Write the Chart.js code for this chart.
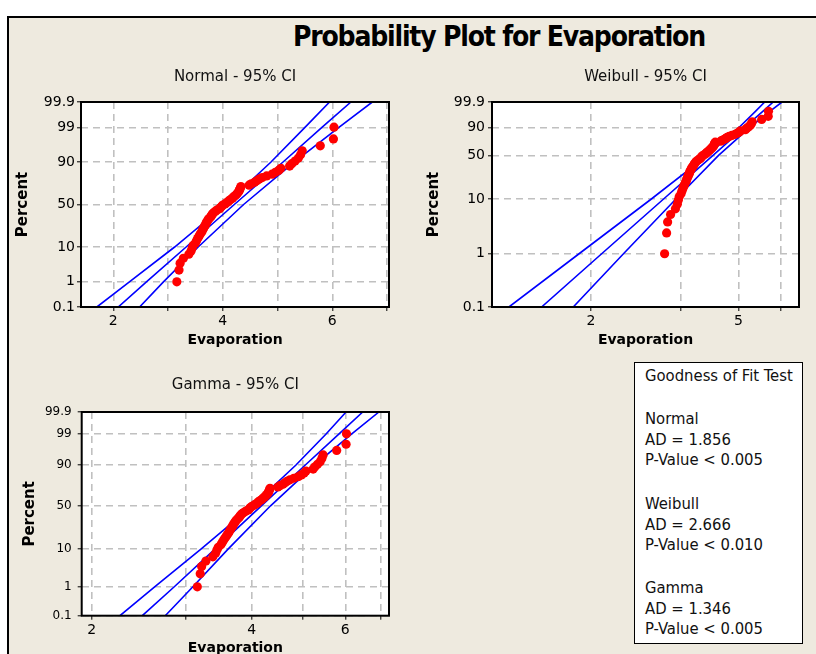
<!DOCTYPE html>
<html>
<head>
<meta charset="utf-8">
<script src="https://cdn.jsdelivr.net/npm/chart.js@4.4.1/dist/chart.umd.min.js"></script>
<style>
  html, body { margin: 0; padding: 0; }
  body { width: 816px; height: 654px; overflow: hidden; position: relative; background: #fff; font-family: "DejaVu Sans", sans-serif; }
  #frame { position: absolute; left: 7px; top: 16px; width: 900px; height: 700px; border-left: 2px solid #000; border-top: 2px solid #000; background: #eeeadf; }
  #title { position: absolute; left: 199px; top: 21px; width: 600px; text-align: center; font: bold 28px/32px "DejaVu Sans Condensed", "DejaVu Sans", sans-serif; letter-spacing: -1.2px; color: #000; }
  canvas { position: absolute; }
  #cNormal { left: 0; top: 60px; }
  #cWeibull { left: 410px; top: 60px; }
  #cGamma { left: 0; top: 370px; }
  #gof { position: absolute; left: 634px; top: 362px; width: 167px; height: 280px; border: 1px solid #000; background: #fff; }
  #gof div { position: absolute; left: 10px; white-space: nowrap; font: 16.5px/20px "DejaVu Sans Condensed", "DejaVu Sans", sans-serif; color: #111; }
</style>
</head>
<body>
<div id="frame"></div>
<div id="title">Probability Plot for Evaporation</div>
<canvas id="cNormal" width="470" height="300"></canvas>
<canvas id="cWeibull" width="470" height="300"></canvas>
<canvas id="cGamma" width="470" height="300"></canvas>
<div id="gof"></div>
<script>
// sorted evaporation values
const evaporation = [3.16, 3.20, 3.22, 3.28, 3.38, 3.42, 3.44, 3.46, 3.50, 3.52,
    3.54, 3.56, 3.58, 3.60, 3.62, 3.63, 3.65, 3.66, 3.68, 3.69,
    3.70, 3.72, 3.73, 3.75, 3.77, 3.79, 3.80, 3.82, 3.84, 3.87,
    3.90, 3.94, 3.96, 3.98, 4.00, 4.04, 4.07, 4.10, 4.12, 4.15,
    4.18, 4.20, 4.23, 4.25, 4.27, 4.29, 4.30, 4.31, 4.32, 4.33,
    4.48, 4.52, 4.58, 4.62, 4.66, 4.72, 4.80, 4.90, 4.96, 5.02,
    5.06, 5.22, 5.26, 5.32, 5.38, 5.42, 5.45, 5.78, 6.02, 6.03];

// plotted percent of each point
const percentRank = [0.99, 2.41, 3.84, 5.26, 6.68, 8.10, 9.52, 10.94, 12.36, 13.78,
    15.20, 16.62, 18.04, 19.46, 20.88, 22.30, 23.72, 25.14, 26.56, 27.98,
    29.40, 30.82, 32.24, 33.66, 35.09, 36.51, 37.93, 39.35, 40.77, 42.19,
    43.61, 45.03, 46.45, 47.87, 49.29, 50.71, 52.13, 53.55, 54.97, 56.39,
    57.81, 59.23, 60.65, 62.07, 63.49, 64.91, 66.34, 67.76, 69.18, 70.60,
    72.02, 73.44, 74.86, 76.28, 77.70, 79.12, 80.54, 81.96, 83.38, 84.80,
    86.22, 87.64, 89.06, 90.48, 91.90, 93.32, 94.74, 96.16, 97.59, 99.01];

// fitted line and 95% CI, evaporation at these percents
const fitPercent = [0.1, 1, 10, 50, 90, 99, 99.9];
const normalFit   = [2.09, 2.61, 3.33, 4.21, 5.10, 5.81, 6.34];
const normalLow   = [1.70, 2.30, 3.12, 4.05, 4.88, 5.50, 5.95];
const normalHigh  = [2.48, 2.92, 3.55, 4.38, 5.31, 6.12, 6.73];
const weibullFit  = [1.47, 2.14, 3.14, 4.27, 5.19, 5.82, 6.21];
const weibullLow  = [1.20, 1.86, 2.91, 4.12, 5.02, 5.56, 5.89];
const weibullHigh = [1.79, 2.45, 3.39, 4.42, 5.37, 6.08, 6.56];
const gammaFit    = [2.49, 2.86, 3.41, 4.17, 5.04, 5.84, 6.47];
const gammaLow    = [2.26, 2.63, 3.21, 4.01, 4.84, 5.52, 6.02];
const gammaHigh   = [2.75, 3.10, 3.61, 4.34, 5.25, 6.17, 6.94];

// tick labels
const percentTicks = [0.1, 1, 10, 50, 90, 99, 99.9];
const weibullPercentTicks = [0.1, 1, 10, 50, 90, 99.9];
const normalXTicks = [2, 3, 4, 5, 6, 7];
const normalXLabels = ['2', '', '4', '', '6', ''];
const weibullXTicks = [2, 3.5, 5, 6.5];
const weibullXLabels = ['2', '', '5', ''];
const gammaXTicks = [2, 3, 4, 5, 6, 7];
const gammaXLabels = ['2', '', '4', '', '6', ''];

// goodness of fit text
const fitNames = ['Normal', 'Weibull', 'Gamma'];
const adValues = ['1.856', '2.666', '1.346'];
const pValues = ['< 0.005', '< 0.010', '< 0.005'];

// inverse normal cdf (Acklam)
function probit(p) {
    const a = [-3.969683028665376e+01, 2.209460984245205e+02, -2.759285104469687e+02, 1.383577518672690e+02, -3.066479806614716e+01, 2.506628277459239e+00];
    const b = [-5.447609879822406e+01, 1.615858368580409e+02, -1.556989798598866e+02, 6.680131188771972e+01, -1.328068155288572e+01];
    const c = [-7.784894002430293e-03, -3.223964580411365e-01, -2.400758277161838e+00, -2.549732539343734e+00, 4.374664141464968e+00, 2.938163982698783e+00];
    const d = [7.784695709041462e-03, 3.224671290700398e-01, 2.445134137142996e+00, 3.754408661907416e+00];
    let q, r;
    if (p < 0.02425) {
        q = Math.sqrt(-2 * Math.log(p));
        return (((((c[0]*q+c[1])*q+c[2])*q+c[3])*q+c[4])*q+c[5]) / ((((d[0]*q+d[1])*q+d[2])*q+d[3])*q+1);
    }
    if (p > 1 - 0.02425) {
        q = Math.sqrt(-2 * Math.log(1 - p));
        return -(((((c[0]*q+c[1])*q+c[2])*q+c[3])*q+c[4])*q+c[5]) / ((((d[0]*q+d[1])*q+d[2])*q+d[3])*q+1);
    }
    q = p - 0.5; r = q * q;
    return (((((a[0]*r+a[1])*r+a[2])*r+a[3])*r+a[4])*r+a[5])*q / (((((b[0]*r+b[1])*r+b[2])*r+b[3])*r+b[4])*r+1);
}

// probability paper for each distribution
const gammaShape = 43;
const yNormal = p => probit(p / 100);
const yWeibull = p => Math.log(-Math.log(1 - p / 100));
const yGamma = p => Math.log(1 - 1 / (9 * gammaShape) + probit(p / 100) / (3 * Math.sqrt(gammaShape)));

const plotFrame = {
    id: 'plotFrame',
    beforeDraw(chart) {
        const {ctx, chartArea: a} = chart;
        ctx.save();
        ctx.fillStyle = '#ffffff';
        ctx.fillRect(a.left, a.top, a.right - a.left, a.bottom - a.top);
        ctx.restore();
    },
    afterDraw(chart) {
        const {ctx, chartArea: a} = chart;
        ctx.save();
        ctx.strokeStyle = '#000';
        ctx.lineWidth = 2;
        ctx.strokeRect(a.left, a.top, a.right - a.left, a.bottom - a.top);
        ctx.restore();
    }
};

function drawProbPlot(id, o) {
    const points = evaporation.map((v, i) => ({x: v, y: o.yOf(percentRank[i])}));
    const line = xs => xs.map((v, i) => ({x: v, y: o.yOf(fitPercent[i])}));
    const blue = {showLine: true, pointRadius: 0, borderColor: '#0000ff', borderWidth: 1.6, fill: false};
    const gridStyle = {color: '#c0c0c0', lineWidth: 1.6, tickLength: 4, tickColor: '#000', tickWidth: 1};

    new Chart(document.getElementById(id), {
        type: 'scatter',
        data: {
            datasets: [
                {data: points, pointRadius: 4.6, pointHoverRadius: 4.6, backgroundColor: '#ff0000', borderColor: '#ff0000', borderWidth: 0},
                Object.assign({data: line(o.fit)}, blue),
                Object.assign({data: line(o.low)}, blue),
                Object.assign({data: line(o.high)}, blue),
            ],
        },
        options: {
            responsive: false,
            animation: false,
            devicePixelRatio: 1,
            layout: {padding: {right: 81}},
            plugins: {
                legend: {display: false},
                tooltip: {enabled: false},
                title: {
                    display: true,
                    fullSize: false,
                    text: o.title,
                    color: '#111',
                    font: {family: 'DejaVu Sans', size: 15, weight: 'normal'},
                    padding: o.titlePad,
                },
            },
            scales: {
                x: {
                    type: o.xType,
                    min: o.xMin,
                    max: o.xMax,
                    bounds: 'data',
                    afterBuildTicks: s => { s.ticks = o.xTicks.map(v => ({value: v})); },
                    afterFit: s => { s.height = 300 - o.areaBottom; },
                    ticks: {
                        callback: (v, i) => o.xLabels[i],
                        autoSkip: false, maxRotation: 0, padding: 2,
                        color: '#000',
                        font: {family: 'DejaVu Sans', size: 14},
                    },
                    grid: gridStyle,
                    border: {display: false, dash: [7, 5]},
                    title: {
                        display: true,
                        text: 'Evaporation',
                        color: '#000',
                        font: {family: 'DejaVu Sans', size: 14, weight: 'bold'},
                        padding: {top: 0, bottom: o.xTitlePad},
                    },
                },
                y: {
                    type: 'linear',
                    min: o.yOf(0.1),
                    max: o.yOf(99.9),
                    bounds: 'data',
                    afterBuildTicks: s => { s.ticks = o.yTicks.map(p => ({value: o.yOf(p)})); },
                    afterFit: s => { s.width = o.yAxisWidth; },
                    ticks: {
                        callback: (v, i) => String(o.yTicks[i]),
                        autoSkip: false, padding: o.yTickPad,
                        color: '#000',
                        font: {family: 'DejaVu Sans', size: o.yFont},
                    },
                    grid: gridStyle,
                    border: {display: false, dash: [7, 5]},
                    title: {
                        display: true,
                        text: 'Percent',
                        color: '#000',
                        font: {family: 'DejaVu Sans', size: 15, weight: 'bold'},
                        padding: {top: o.yTitlePad, bottom: 0},
                    },
                },
            },
        },
        plugins: [plotFrame],
    });
}

drawProbPlot('cNormal', {
    title: 'Normal - 95% CI', titlePad: {top: 8, bottom: 16},
    yOf: yNormal, yTicks: percentTicks, yFont: 14, yTickPad: 2, yAxisWidth: 81, yTitlePad: 14,
    xType: 'linear', xMin: 1.41, xMax: 7.035, xTicks: normalXTicks, xLabels: normalXLabels,
    areaBottom: 247, xTitlePad: 11.6,
    fit: normalFit, low: normalLow, high: normalHigh,
});

drawProbPlot('cWeibull', {
    title: 'Weibull - 95% CI', titlePad: {top: 8, bottom: 16},
    yOf: yWeibull, yTicks: weibullPercentTicks, yFont: 14, yTickPad: 3, yAxisWidth: 82, yTitlePad: 15,
    xType: 'logarithmic', xMin: 1.08, xMax: 7.29, xTicks: weibullXTicks, xLabels: weibullXLabels,
    areaBottom: 247, xTitlePad: 11.6,
    fit: weibullFit, low: weibullLow, high: weibullHigh,
});

drawProbPlot('cGamma', {
    title: 'Gamma - 95% CI', titlePad: {top: 6, bottom: 18},
    yOf: yGamma, yTicks: percentTicks, yFont: 12, yTickPad: 6, yAxisWidth: 81.7, yTitlePad: 21,
    xType: 'logarithmic', xMin: 1.915, xMax: 7.25, xTicks: gammaXTicks, xLabels: gammaXLabels,
    areaBottom: 245.7, xTitlePad: 13.6,
    fit: gammaFit, low: gammaLow, high: gammaHigh,
});

// goodness of fit box
const gof = document.getElementById('gof');
const lines = [['Goodness of Fit Test', 376]];
const blockTop = [419, 504, 588];
fitNames.forEach((name, i) => {
    lines.push([name, blockTop[i]]);
    lines.push(['AD = ' + adValues[i], blockTop[i] + 21]);
    lines.push(['P-Value ' + pValues[i], blockTop[i] + 41]);
});
lines.forEach(([text, cy]) => {
    const el = document.createElement('div');
    el.textContent = text;
    el.style.top = (cy - 363 - 10) + 'px';
    gof.appendChild(el);
});
</script>
</body>
</html>
